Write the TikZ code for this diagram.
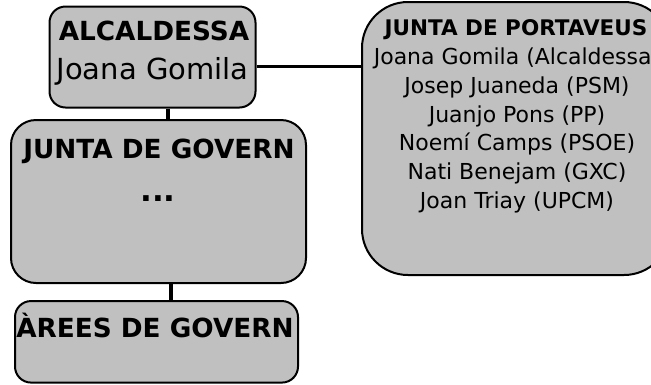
\documentclass[tikz,border=0pt]{standalone}
\usepackage{fontspec}
\setmainfont{DejaVu Sans}
\usepackage{tikz}
\usetikzlibrary{calc}

\definecolor{boxgray}{RGB}{192,192,192}

\tikzset{
	orgbox/.style = {draw=black, line width=2pt, fill=boxgray, inner sep=0pt},
	link/.style = {line width=3.4pt},
	headtxt/.style = {font=\fontsize{26.3}{30}\selectfont\bfseries, anchor=base, inner sep=0pt},
	nametxt/.style = {font=\fontsize{29}{34}\selectfont, anchor=base, inner sep=0pt},
	listhead/.style = {font=\fontsize{21.5}{26}\selectfont\bfseries, anchor=base, inner sep=0pt},
	listtxt/.style = {font=\fontsize{22}{26}\selectfont, anchor=base, inner sep=0pt},
}

\begin{document}
\begin{tikzpicture}[x=1pt, y=-1pt]
	\useasboundingbox (0,0) rectangle (651,384);

	\def\lineSTEP{28.8};

	% caixes
	\node [orgbox, rounded corners=16pt, minimum width=206pt, minimum height=101pt] (alc) at (152.5,57) {};
	\node [orgbox, rounded corners=25pt, minimum width=295pt, minimum height=163pt] (govern) at (158.5,201.5) {};
	\node [orgbox, rounded corners=16pt, minimum width=283pt, minimum height=81.5pt] (arees) at (156.5,341.8) {};
	\node [orgbox, rounded corners=46pt, minimum width=308pt, minimum height=273pt] (port) at (516,138.5) {};

	% textos
	\node [headtxt] (alcA) at (154,40) {ALCALDESSA};
	\node [nametxt] (alcB) at (152.5,79) {Joana Gomila};
	\node [headtxt] (governA) at (159,158) {JUNTA DE GOVERN};
	\node [headtxt, font=\fontsize{31}{34}\selectfont\bfseries] (governB) at (158,201) {...};
	\node [headtxt] (areesA) at (155,337) {ÀREES DE GOVERN};
	\node [listhead] (portA) at (516,35.7) {JUNTA DE PORTAVEUS};
	\foreach \who [count=\i] in {Joana Gomila (Alcaldessa), Josep Juaneda (PSM), Juanjo Pons (PP), Noemí Camps (PSOE), Nati Benejam (GXC), Joan Triay (UPCM)}
		\node [listtxt] (port\i) at (517,35.7+\i*\lineSTEP) {\who};

	% linies
	\coordinate (c1) at (168,0);
	\coordinate (c2) at (171,0);
	\coordinate (c3) at (0,66.7);
	\begin{scope}[link]
		\draw (alc.south -| c1) -- (govern.north -| c1);
		\draw (govern.south -| c2) -- (arees.north -| c2);
		\draw (alc.east |- c3) -- (port.west |- c3);
	\end{scope}
\end{tikzpicture}
\end{document}
